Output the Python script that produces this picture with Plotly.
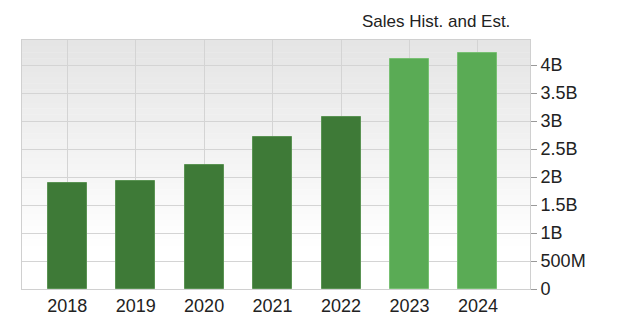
import plotly.graph_objects as go

years = ["2018", "2019", "2020", "2021", "2022", "2023", "2024"]
sales = [1.89e9, 1.93e9, 2.21e9, 2.71e9, 3.07e9, 4.11e9, 4.21e9]
kind = ["hist", "hist", "hist", "hist", "hist", "est", "est"]
y_tickvals = [0, 0.5e9, 1e9, 1.5e9, 2e9, 2.5e9, 3e9, 3.5e9, 4e9]
y_ticktext = ["0", "500M", "1B", "1.5B", "2B", "2.5B", "3B", "3.5B", "4B"]
title_text = "Sales Hist. and Est."

colors = {"hist": "#3e7a37", "est": "#5aab55"}
edges = {"hist": "#5a9353", "est": "#78c073"}

fig = go.Figure()
fig.add_trace(go.Bar(
    x=list(range(len(years))), y=sales,
    marker=dict(color=[colors[k] for k in kind],
                line=dict(color=[edges[k] for k in kind], width=1)),
    width=0.57, showlegend=False, hoverinfo="skip",
))

# vertical gradient background of the plot area
n = 40
for i in range(n):
    t = i / n
    f = max(0.0, (t - 0.15) / 0.85)
    v = int(round(255 - (255 - 228) * f))
    fig.add_shape(type="rect", xref="x domain", yref="y domain",
                  x0=0, x1=1, y0=t, y1=(i + 1) / n + 0.001,
                  fillcolor=f"rgb({v},{v},{v})", line=dict(width=0),
                  layer="below")

fig.add_annotation(text=title_text, xref="paper", yref="paper",
                   x=(512 - 22) / 508, y=(289 - 22) / 249,
                   xanchor="right", yanchor="middle",
                   showarrow=False, font=dict(size=17, color="#222"))

fig.update_layout(
    width=620, height=324,
    margin=dict(l=22, r=90, t=40, b=35, autoexpand=False),
    paper_bgcolor="white", plot_bgcolor="rgba(0,0,0,0)",
    font=dict(family="Liberation Sans, Arial, sans-serif", size=18, color="#222"),
    bargap=0,
)
fig.update_xaxes(
    range=[-0.66, 6.76], tickvals=list(range(len(years))), ticktext=years,
    showgrid=True, gridcolor="#d4d4d4", gridwidth=1,
    showline=True, linecolor="#d0d0d0", mirror=True,
    ticks="", ticklabelstandoff=0, zeroline=False, automargin=False,
)
fig.update_yaxes(
    range=[0, 4.45e9], side="right", tickvals=y_tickvals, ticktext=y_ticktext,
    showgrid=True, gridcolor="#d4d4d4", gridwidth=1,
    showline=True, linecolor="#d0d0d0", mirror=True,
    ticks="outside", ticklen=6, tickcolor="#999", zeroline=False,
    ticklabelstandoff=0, automargin=False,
)

fig.write_html("out.html")
